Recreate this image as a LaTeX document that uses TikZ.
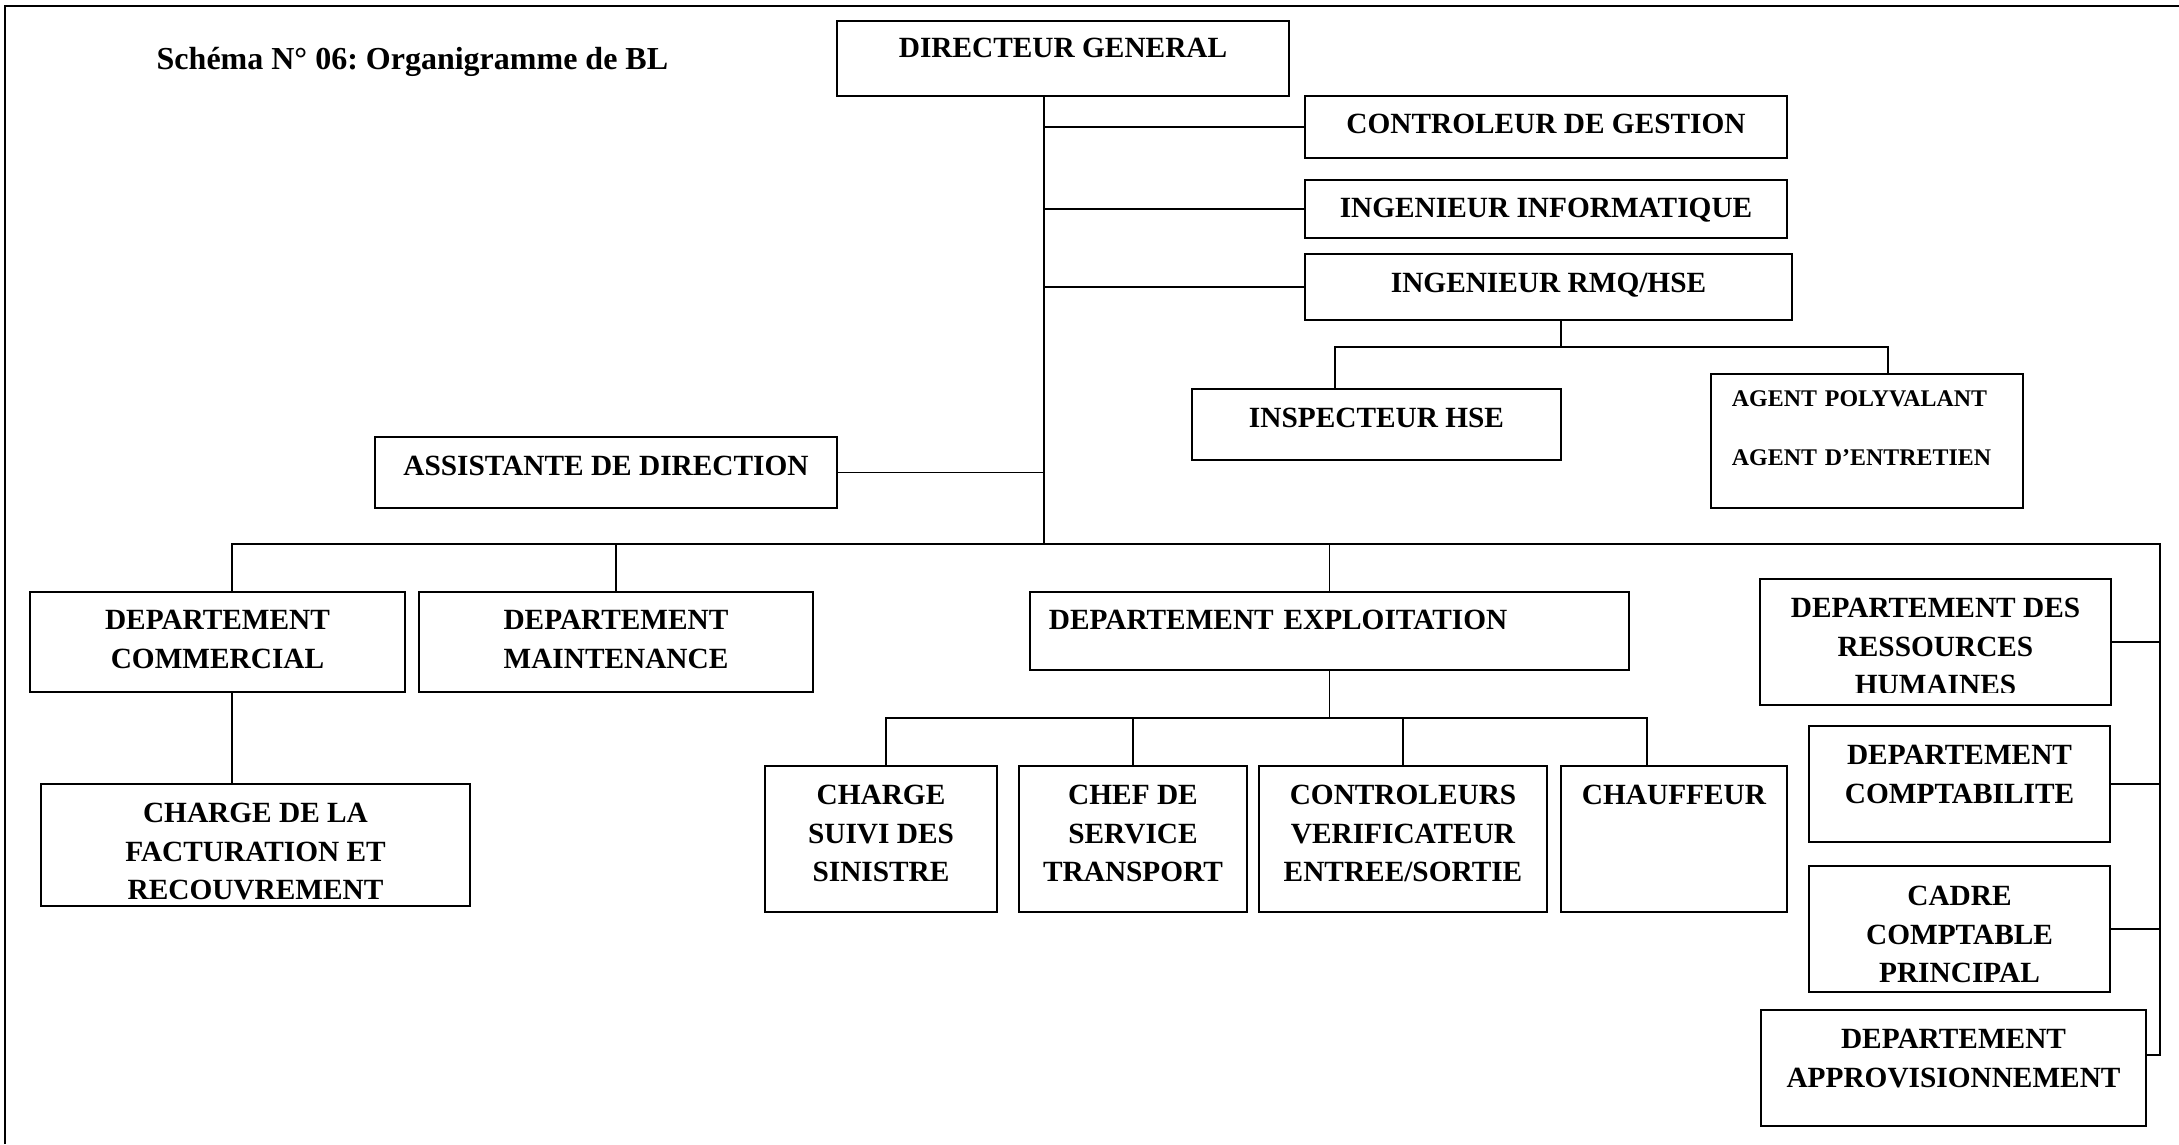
\documentclass[tikz,border=0pt]{standalone}
\usepackage{fontspec}
\setmainfont{Liberation Serif}
\frenchspacing
\newcommand\orgfont{\fontsize{8.34pt}{10.95pt}\selectfont\bfseries}
\newcommand\agentfont{\fontsize{6.8pt}{8.3pt}\selectfont\bfseries}
\newcommand\titlefont{\fontsize{9.1pt}{11pt}\selectfont\bfseries}

\begin{document}
\begin{tikzpicture}[
    x=0.01cm, y=-0.01cm,
    box/.style={draw, line width=0.6pt, inner sep=0pt, align=center, text height=0.194cm, font=\orgfont},
    link/.style={line width=0.5pt},
    frame/.style={line width=0.75pt}
  ]
  \useasboundingbox (0,0) rectangle (2179,1144);
  \draw[frame] (5,1144) -- (5,6) -- (2179,6);

  \node[anchor=base west, inner sep=0pt, font=\titlefont] (title) at (156,69) {Schéma N° 06: Organigramme de BL};

  \node[box, minimum width=4.52cm, minimum height=0.75cm, text depth=0.22cm] (dg) at (1063,58.5) {DIRECTEUR GENERAL};
  \node[box, minimum width=4.82cm, minimum height=0.62cm, text depth=0.06cm] (cg) at (1546,127) {CONTROLEUR DE GESTION};
  \node[box, minimum width=4.82cm, minimum height=0.58cm, text depth=0.02cm] (info) at (1546,209) {INGENIEUR INFORMATIQUE};
  \node[box, minimum width=4.87cm, minimum height=0.66cm, text depth=0.08cm] (rmq) at (1548.5,287) {INGENIEUR RMQ/HSE};
  \node[box, minimum width=3.69cm, minimum height=0.71cm, text depth=0.13cm] (insp) at (1376.5,424.5) {INSPECTEUR HSE};
  \node[box, minimum width=3.12cm, minimum height=1.34cm, font=\agentfont, align=left, text width=2.70cm, inner xsep=0.21cm, text height=0.158cm, text depth=0.84cm] (agent) at (1867,441) {AGENT POLYVALANT\\[8.5pt]AGENT D’ENTRETIEN};
  \node[box, minimum width=4.62cm, minimum height=0.71cm, text depth=0.13cm] (asst) at (606,472.5) {ASSISTANTE DE DIRECTION};

  \node[box, minimum width=3.75cm, minimum height=1.00cm, text height=0.524cm, text depth=0cm] (com) at (217.5,642) {DEPARTEMENT\\COMMERCIAL};
  \node[box, minimum width=3.94cm, minimum height=1.00cm, text height=0.524cm, text depth=0cm] (maint) at (616,642) {DEPARTEMENT\\MAINTENANCE};
  \node[box, minimum width=5.99cm, minimum height=0.78cm, align=left, text width=5.61cm, inner xsep=0.19cm, text depth=0.22cm] (expl) at (1329.5,631) {DEPARTEMENT EXPLOITATION};
  \node[box, minimum width=4.29cm, minimum height=1.22cm, text height=1.094cm, text depth=0cm] (fact) at (255.5,845) {CHARGE DE LA\\FACTURATION ET\\RECOUVREMENT};

  \node[box, minimum width=2.32cm, minimum height=1.46cm, text height=0.854cm, text depth=0cm] (sin) at (881,839) {CHARGE\\SUIVI DES\\SINISTRE};
  \node[box, minimum width=2.28cm, minimum height=1.46cm, text height=0.854cm, text depth=0cm] (trans) at (1133,839) {CHEF DE\\SERVICE\\TRANSPORT};
  \node[box, minimum width=2.88cm, minimum height=1.46cm, text height=0.854cm, text depth=0cm] (ctrl) at (1403,839) {CONTROLEURS\\VERIFICATEUR\\ENTREE/SORTIE};
  \node[box, minimum width=2.26cm, minimum height=1.46cm, text depth=0.88cm] (chauf) at (1674,839) {CHAUFFEUR};

  \begin{scope}
    \clip (1761,580) rectangle (2110,692);
    \node[box, draw=none, minimum width=3.49cm, minimum height=1.24cm, text height=1.05cm, text depth=0cm] (rh) at (1935.5,642) {DEPARTEMENT DES\\RESSOURCES\\HUMAINES};
  \end{scope}
  \draw[line width=0.6pt] (rh.south west) rectangle (rh.north east);
  \node[box, minimum width=3.01cm, minimum height=1.16cm, text height=0.384cm, text depth=0cm] (compta) at (1959.5,784) {DEPARTEMENT\\COMPTABILITE};
  \node[box, minimum width=3.01cm, minimum height=1.26cm, text height=1.074cm, text depth=0cm] (cadre) at (1959.5,929) {CADRE\\COMPTABLE\\PRINCIPAL};
  \node[box, minimum width=3.85cm, minimum height=1.16cm, text height=0.384cm, text depth=0cm] (appro) at (1953.5,1068) {DEPARTEMENT\\APPROVISIONNEMENT};

  \coordinate (dgfoot) at (1044,96);
  \coordinate (busL) at (232,544);
  \coordinate (busR) at (2160,544);
  \coordinate (colEnd) at (2160,1055);
  \coordinate (hseL) at (1335,347);
  \coordinate (hseM) at (1561,347);
  \coordinate (hseR) at (1888,347);
  \coordinate (subL) at (886,718);
  \coordinate (subR) at (1647,718);

  \draw[link] (dgfoot) -- (dgfoot |- busL);
  \draw[link] (cg.west) -- (cg.west -| dgfoot);
  \draw[link] (info.west) -- (info.west -| dgfoot);
  \draw[link] (rmq.west) -- (rmq.west -| dgfoot);
  \draw[link] (asst.east) -- (asst.east -| dgfoot);

  \draw[link] (hseM |- rmq.south) -- (hseM);
  \draw[link] (hseL |- insp.north) -- (hseL) -- (hseR) -- (hseR |- agent.north);

  \draw[link] (busL |- com.north) -- (busL) -- (busR) -- (colEnd) -- (colEnd -| appro.east);
  \draw[link] (maint.north) -- (maint.north |- busL);
  \draw[link] (expl.north) -- (expl.north |- busL);
  \draw[link] (busL |- com.south) -- (busL |- fact.north);
  \draw[link] (rh.east) -- (rh.east -| busR);
  \draw[link] (compta.east) -- (compta.east -| busR);
  \draw[link] (cadre.east) -- (cadre.east -| busR);

  \draw[link] (expl.south) -- (expl.south |- subL);
  \draw[link] (subL |- sin.north) -- (subL) -- (subR) -- (subR |- chauf.north);
  \draw[link] (trans.north) -- (trans.north |- subL);
  \draw[link] (ctrl.north) -- (ctrl.north |- subL);
\end{tikzpicture}
\end{document}
